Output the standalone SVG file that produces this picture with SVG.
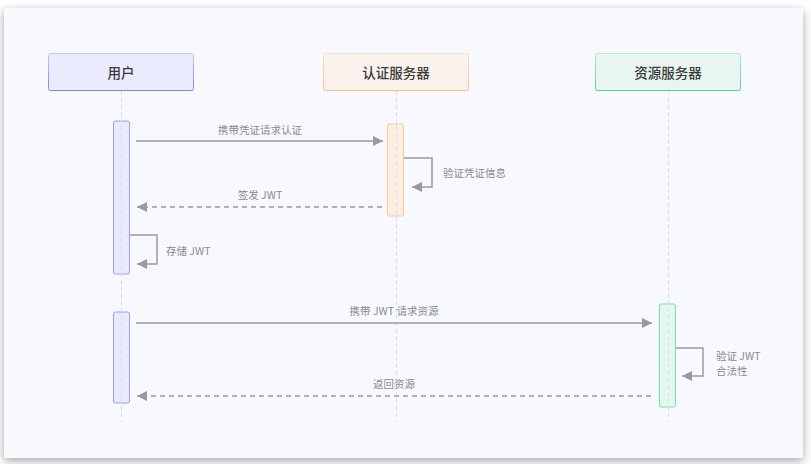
<svg xmlns="http://www.w3.org/2000/svg" width="811" height="464" viewBox="0 0 811 464">
<defs>
<filter id="shadow" x="-5%" y="-5%" width="110%" height="115%">
<feDropShadow dx="0" dy="3" stdDeviation="5" flood-color="#000" flood-opacity="0.35"/>
</filter>
<linearGradient id="gUser" x1="0" y1="0" x2="0" y2="1"><stop offset="0" stop-color="#c5c8fb"/><stop offset="1" stop-color="#7f82f2"/></linearGradient>
<linearGradient id="gAuth" x1="0" y1="0" x2="0" y2="1"><stop offset="0" stop-color="#fde0c0"/><stop offset="1" stop-color="#f7bd80"/></linearGradient>
<linearGradient id="gRes" x1="0" y1="0" x2="0" y2="1"><stop offset="0" stop-color="#b4ecd4"/><stop offset="1" stop-color="#4dd498"/></linearGradient>
<marker id="arr" viewBox="0 0 10 10" refX="10" refY="5" markerWidth="10" markerHeight="10" markerUnits="userSpaceOnUse" orient="auto">
<path d="M0,0 L10,5 L0,10 z" fill="#9a9a9a"/>
</marker>
<style>
.title{font-family:"Noto Sans CJK SC","Noto Sans",sans-serif;font-size:13.5px;font-weight:500;fill:#3a3a3a;text-anchor:middle;dominant-baseline:central}
.lbl{font-family:"Noto Sans CJK SC","Noto Sans",sans-serif;font-size:10.5px;fill:#8a8a8a;dominant-baseline:central}
.mid{text-anchor:middle}
.life{stroke:#dcdce2;stroke-width:1;stroke-dasharray:4 3;fill:none}
.msg{stroke:#9a9a9a;stroke-width:1.5;fill:none;marker-end:url(#arr)}
.ret{stroke-dasharray:5 4}
</style>
</defs>
<rect x="0" y="0" width="811" height="464" fill="#ffffff"/>
<rect x="4" y="8" width="799" height="450" fill="#f8f9fe" filter="url(#shadow)"/>

<g id="actor-user">
<rect x="48.5" y="53.5" width="145" height="37" rx="2" fill="#eaecfd" stroke="url(#gUser)" stroke-width="1"/>
<text class="title" x="121" y="72">用户</text>
</g>
<g id="actor-auth">
<rect x="323.5" y="53.5" width="145" height="37" rx="2" fill="#f9f1eb" stroke="url(#gAuth)" stroke-width="1"/>
<text class="title" x="396" y="72">认证服务器</text>
</g>
<g id="actor-resource">
<rect x="595.5" y="53.5" width="145" height="37" rx="2" fill="#e7f6f0" stroke="url(#gRes)" stroke-width="1"/>
<text class="title" x="668" y="72">资源服务器</text>
</g>

<g id="activations">
<rect id="act-user-1" x="113.5" y="121" width="16" height="153" rx="2" fill="#e8eafe" stroke="#9a9df7" stroke-width="1"/>
<rect id="act-user-2" x="113.5" y="312" width="16" height="91" rx="2" fill="#e8eafe" stroke="#9a9df7" stroke-width="1"/>
<rect id="act-auth" x="387.5" y="124" width="16" height="92" rx="2" fill="#fbefe4" stroke="#fcc88e" stroke-width="1"/>
<rect id="act-res" x="659.5" y="304" width="16" height="103" rx="2" fill="#e4f8ee" stroke="#6ee2aa" stroke-width="1"/>
</g>

<g id="lifelines">
<line class="life" x1="121.5" y1="91" x2="121.5" y2="421"/>
<line class="life" x1="396.5" y1="91" x2="396.5" y2="421"/>
<line class="life" x1="668.5" y1="91" x2="668.5" y2="421"/>
</g>

<g id="connectors">
<line class="msg" x1="136" y1="141" x2="383" y2="141"/>
<text class="lbl mid" x="260" y="129">携带凭证请求认证</text>

<polyline class="msg" points="404,158 432,158 432,187 412,187"/>
<text class="lbl" x="443" y="172">验证凭证信息</text>

<line class="msg ret" x1="382" y1="207" x2="137" y2="207"/>
<text class="lbl mid" x="260" y="194">签发 JWT</text>

<polyline class="msg" points="130,235 157,235 157,264 137,264"/>
<text class="lbl" x="166" y="250">存储 JWT</text>

<line class="msg" x1="136" y1="323" x2="652" y2="323"/>
<text class="lbl mid" x="394" y="310">携带 JWT 请求资源</text>

<polyline class="msg" points="676,348 703,348 703,376 682,376"/>
<text class="lbl" x="716" y="355">验证 JWT</text>
<text class="lbl" x="716" y="370">合法性</text>

<line class="msg ret" x1="651" y1="396" x2="137" y2="396"/>
<text class="lbl mid" x="394" y="383">返回资源</text>
</g>
</svg>
